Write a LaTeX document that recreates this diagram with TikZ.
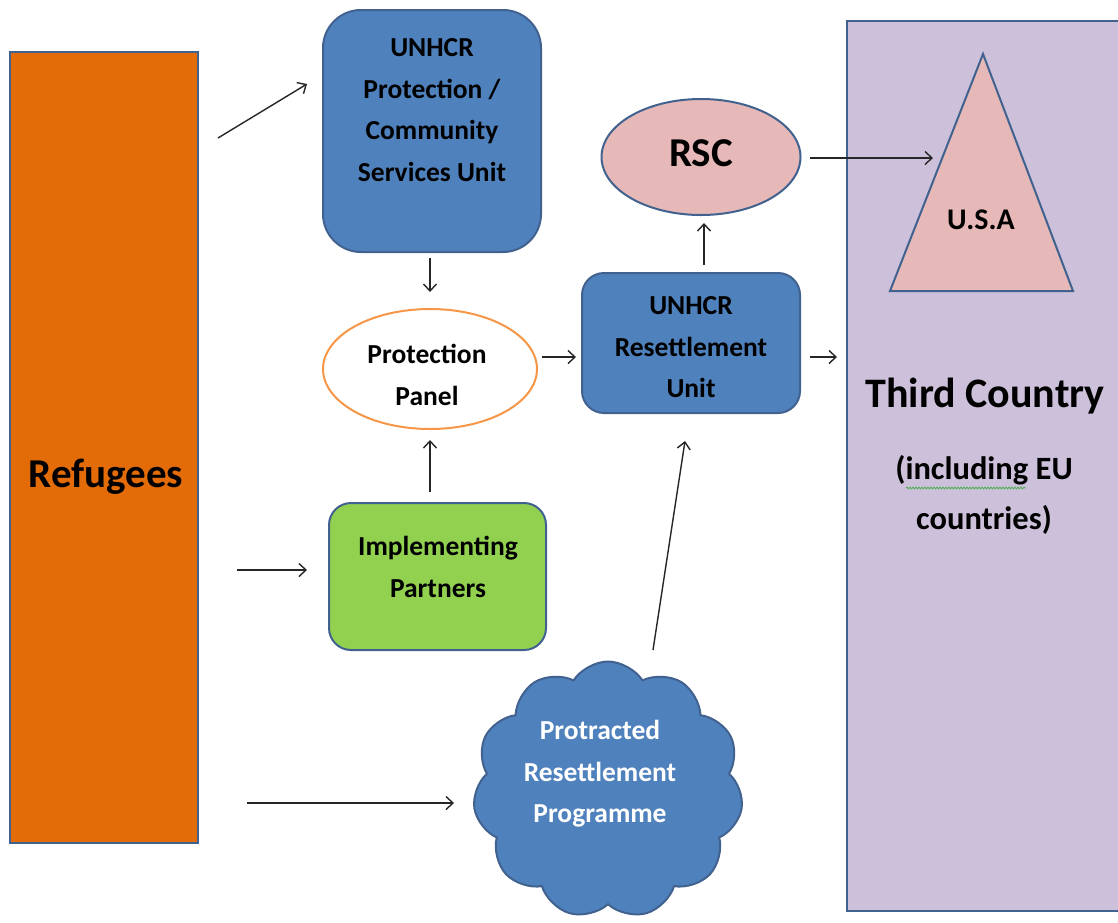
\documentclass[tikz,border=0pt]{standalone}
\usepackage{fontspec}
\setmainfont{Carlito}
\usetikzlibrary{shapes.geometric,shapes.symbols,decorations.pathmorphing,arrows.meta}
\definecolor{orng}{HTML}{E36C09}
\definecolor{bluef}{HTML}{4F81BD}
\definecolor{blued}{HTML}{41628F}
\definecolor{greenf}{HTML}{92D050}
\definecolor{pinkf}{HTML}{E6B9B8}
\definecolor{lilac}{HTML}{CCC0DA}
\definecolor{panelo}{HTML}{F79646}
\definecolor{squig}{HTML}{4CAF50}
\begin{document}
\begin{tikzpicture}[x=1pt,y=-1pt,
  arr/.style={-{Straight Barb[length=7pt,width=13pt]}, line width=1.4pt, black!85},
  box/.style={draw=blued, line width=2pt, inner sep=0pt},
  txt/.style={align=center, font=\fontsize{27.5}{41.5}\selectfont\bfseries, inner sep=0pt},
  bigtxt/.style={align=center, font=\fontsize{41}{44}\selectfont\bfseries, inner sep=0pt},
]
\clip (0,0) rectangle (1118,922);
\fill[white] (0,0) rectangle (1118,922);

% Refugees
\node[box, fill=orng, minimum width=188pt, minimum height=791pt] (ref) at (104,447.5) {};
\node[bigtxt] (reft) at (106,477) {Refugees};

% Third country
\node[box, fill=lilac, minimum width=290pt, minimum height=890pt, anchor=north west] (third) at (846,20) {};
\node[bigtxt, font=\fontsize{42}{44}\selectfont\bfseries] (thirdt) at (985,396) {Third Country};
\node[txt, font=\fontsize{32.5}{50}\selectfont\bfseries] (eut) at (984,495) {(including EU\\countries)};
\draw[squig, line width=0.8pt, decorate, decoration={snake, amplitude=0.9pt, segment length=3pt}] (906,488) -- (1026,488);

% USA triangle
\draw[box, fill=pinkf] (983,54) coordinate (tapex) -- (1073,291) coordinate (tbr) -- (890,291) coordinate (tbl) -- cycle;
\node[txt, font=\fontsize{30}{40}\selectfont\bfseries] (usa) at (981,220) {U.S.A};
\coordinate (usain) at (933,158);

% UNHCR Protection box
\node[box, fill=bluef, rounded corners=38pt, minimum width=218pt, minimum height=242pt] (prot) at (432,131) {};
\node[txt] (prott) at (432,110) {UNHCR\\Protection /\\Community\\Services Unit};

% Protection panel
\node[ellipse, draw=panelo, line width=2pt, fill=white, minimum width=214pt, minimum height=120pt, inner sep=0pt] (panel) at (430,369) {};
\node[txt] (panelt) at (427,375) {Protection\\Panel};

% Implementing partners
\node[box, fill=greenf, rounded corners=22pt, minimum width=217pt, minimum height=147pt] (impl) at (437.5,576.5) {};
\node[txt] (implt) at (438,567) {Implementing\\Partners};

% RSC
\node[ellipse, box, fill=pinkf, minimum width=199pt, minimum height=116pt] (rsc) at (701,157) {};
\node[bigtxt] (rsct) at (701,153) {RSC};

% UNHCR Resettlement Unit
\node[box, fill=bluef, rounded corners=22pt, minimum width=218pt, minimum height=140pt] (reset) at (691,343) {};
\node[txt] (resett) at (691,347.5) {UNHCR\\Resettlement\\Unit};

% Cloud
\node[cloud, cloud puffs=11, cloud puff arc=115, aspect=1.05, draw=blued, fill=bluef, line width=2pt, minimum width=270pt, minimum height=257pt, inner sep=0pt] (cloud) at (608,790) {};
\node[txt, text=white] (cloudt) at (600,774) {Protracted\\Resettlement\\Programme};

% arrow end points
\coordinate (a1s) at (218,138); \coordinate (a1e) at (307,84);
\coordinate (a2s) at (430,258); \coordinate (a2e) at (430,292);
\coordinate (a3s) at (430,492); \coordinate (a3e) at (430,440);
\coordinate (a4s) at (237,570); \coordinate (a4e) at (307,570);
\coordinate (a5s) at (542,357); \coordinate (a5e) at (576,357);
\coordinate (a6s) at (810,357); \coordinate (a6e) at (837,357);
\coordinate (a7s) at (704,265); \coordinate (a7e) at (704,223);
\coordinate (a8s) at (810,158);
\coordinate (a9s) at (247,803); \coordinate (a9e) at (454,803);
\coordinate (a10s) at (653,650); \coordinate (a10e) at (685,441);

\draw[arr] (a1s) -- (a1e);
\draw[arr] (a2s) -- (a2e);
\draw[arr] (a3s) -- (a3e);
\draw[arr] (a4s) -- (a4e);
\draw[arr] (a5s) -- (a5e);
\draw[arr] (a6s) -- (a6e);
\draw[arr] (a7s) -- (a7e);
\draw[arr] (a8s) -- (usain);
\draw[arr] (a9s) -- (a9e);
\draw[arr] (a10s) -- (a10e);
\end{tikzpicture}
\end{document}
